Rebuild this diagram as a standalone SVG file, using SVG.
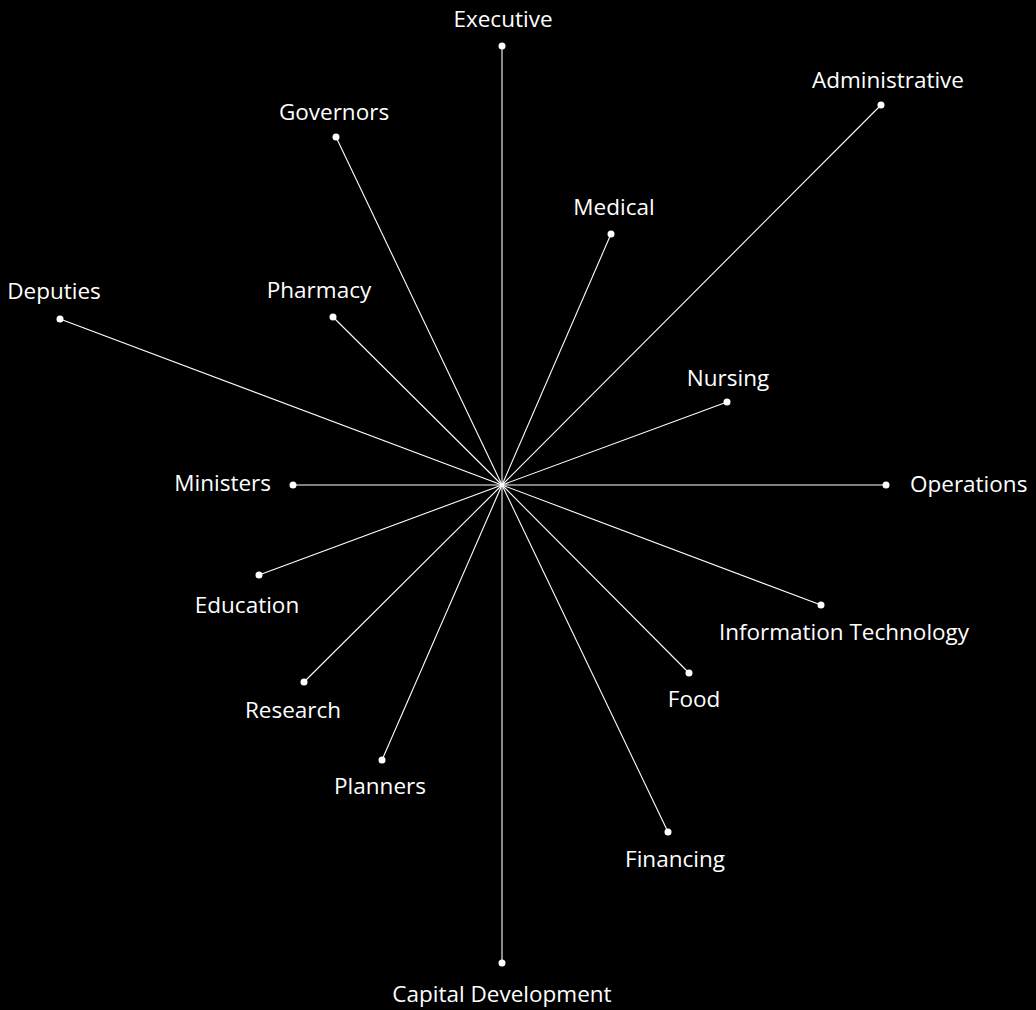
<svg xmlns="http://www.w3.org/2000/svg" width="1036" height="1010" viewBox="0 0 1036 1010">
<style>
.bg{fill:#000}
.ln{stroke:#fff;stroke-width:1.1;fill:none}
.dot{fill:#fff}
text{fill:#fff;font-family:"Open Sans","Noto Sans",sans-serif;font-size:22.5px}
.m{text-anchor:middle}
.e{text-anchor:end}
</style>
<rect class="bg" width="1036" height="1010"/>
<g id="connectors">
<line class="ln" x1="502" y1="485" x2="502" y2="46"/>
<line class="ln" x1="502" y1="485" x2="881" y2="105"/>
<line class="ln" x1="502" y1="485" x2="336" y2="137"/>
<line class="ln" x1="502" y1="485" x2="611" y2="234"/>
<line class="ln" x1="502" y1="485" x2="60" y2="319"/>
<line class="ln" x1="502" y1="485" x2="333" y2="317"/>
<line class="ln" x1="502" y1="485" x2="727" y2="402"/>
<line class="ln" x1="502" y1="485" x2="293" y2="485"/>
<line class="ln" x1="502" y1="485" x2="886" y2="485"/>
<line class="ln" x1="502" y1="485" x2="259" y2="575"/>
<line class="ln" x1="502" y1="485" x2="821" y2="605"/>
<line class="ln" x1="502" y1="485" x2="304" y2="682"/>
<line class="ln" x1="502" y1="485" x2="689" y2="673"/>
<line class="ln" x1="502" y1="485" x2="382" y2="760"/>
<line class="ln" x1="502" y1="485" x2="668" y2="832"/>
<line class="ln" x1="502" y1="485" x2="502" y2="963"/>
</g>
<g id="executive"><circle class="dot" cx="502" cy="46" r="3.5"/><text class="m" x="503" y="27">Executive</text></g>
<g id="administrative"><circle class="dot" cx="881" cy="105" r="3.5"/><text class="m" x="888" y="88">Administrative</text></g>
<g id="governors"><circle class="dot" cx="336" cy="137" r="3.5"/><text class="m" x="334" y="120">Governors</text></g>
<g id="medical"><circle class="dot" cx="611" cy="234" r="3.5"/><text class="m" x="614" y="215">Medical</text></g>
<g id="deputies"><circle class="dot" cx="60" cy="319" r="3.5"/><text class="m" x="54" y="299">Deputies</text></g>
<g id="pharmacy"><circle class="dot" cx="333" cy="317" r="3.5"/><text class="m" x="319" y="298">Pharmacy</text></g>
<g id="nursing"><circle class="dot" cx="727" cy="402" r="3.5"/><text class="m" x="728" y="386">Nursing</text></g>
<g id="ministers"><circle class="dot" cx="293" cy="485" r="3.5"/><text class="e" x="271" y="491">Ministers</text></g>
<g id="operations"><circle class="dot" cx="886" cy="485" r="3.5"/><text x="910" y="492">Operations</text></g>
<g id="education"><circle class="dot" cx="259" cy="575" r="3.5"/><text class="m" x="247" y="613">Education</text></g>
<g id="information-technology"><circle class="dot" cx="821" cy="605" r="3.5"/><text class="m" x="844" y="640">Information Technology</text></g>
<g id="research"><circle class="dot" cx="304" cy="682" r="3.5"/><text class="m" x="293" y="718">Research</text></g>
<g id="food"><circle class="dot" cx="689" cy="673" r="3.5"/><text class="m" x="694" y="707">Food</text></g>
<g id="planners"><circle class="dot" cx="382" cy="760" r="3.5"/><text class="m" x="380" y="794">Planners</text></g>
<g id="financing"><circle class="dot" cx="668" cy="832" r="3.5"/><text class="m" x="675" y="867">Financing</text></g>
<g id="capital-development"><circle class="dot" cx="502" cy="963" r="3.5"/><text class="m" x="502" y="1002">Capital Development</text></g>
</svg>
